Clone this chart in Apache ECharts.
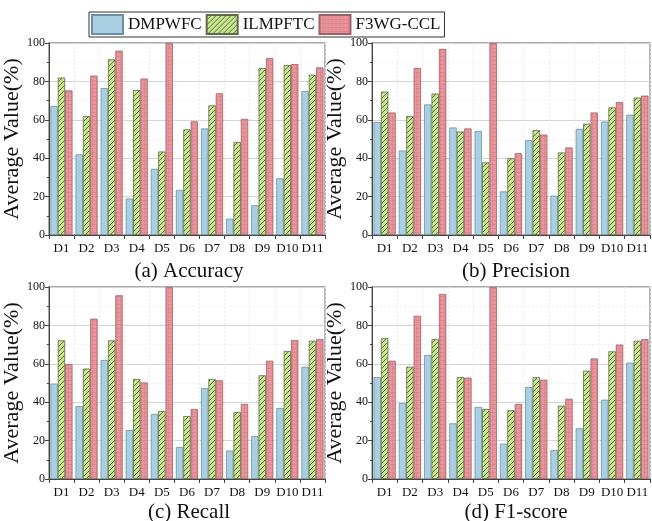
<!DOCTYPE html>
<html>
<head>
<meta charset="utf-8">
<script src="https://cdn.jsdelivr.net/npm/echarts@6/dist/echarts.min.js"></script>
<style>html,body{margin:0;padding:0;background:#fff;}#c{width:652px;height:521px;}</style>
</head>
<body>
<div id="c"></div>
<script>
const categories = ['D1','D2','D3','D4','D5','D6','D7','D8','D9','D10','D11'];
const seriesNames = ['DMPWFC','ILMPFTC','F3WG-CCL'];
const panelTitles = ['(a) Accuracy','(b) Precision','(c) Recall','(d) F1-score'];
const yTicks = [0,20,40,60,80,100];

const accDMPWFC  = [67.2, 42.0, 76.5, 19.0, 34.5, 23.5, 55.5, 8.5, 15.5, 29.5, 75.0];
const accILMPFTC = [82.0, 62.0, 91.5, 75.5, 43.5, 55.0, 67.5, 48.5, 87.0, 88.5, 83.5];
const accF3WG    = [75.3, 83.0, 96.0, 81.5, 100.0, 59.2, 73.8, 60.5, 92.2, 89.0, 87.3];

const preDMPWFC  = [58.8, 44.0, 68.0, 56.0, 54.2, 22.7, 49.4, 20.5, 55.3, 59.1, 62.7];
const preILMPFTC = [74.7, 62.0, 73.7, 53.9, 37.8, 40.0, 54.6, 43.0, 58.0, 66.5, 71.6];
const preF3WG    = [63.8, 87.0, 96.9, 55.5, 100.0, 42.6, 52.3, 45.6, 63.8, 69.2, 72.6];

const recDMPWFC  = [49.7, 38.0, 62.0, 25.5, 33.9, 16.7, 47.4, 14.8, 22.4, 37.0, 58.5];
const recILMPFTC = [72.2, 57.5, 72.2, 52.1, 35.4, 32.8, 52.1, 34.9, 54.0, 66.7, 72.0];
const recF3WG    = [59.9, 83.5, 95.7, 50.3, 100.0, 36.5, 51.4, 39.1, 61.6, 72.4, 72.9];

const f1DMPWFC   = [53.1, 39.6, 64.6, 29.0, 37.5, 18.4, 47.9, 15.1, 26.4, 41.3, 60.6];
const f1ILMPFTC  = [73.3, 58.5, 72.9, 53.1, 36.5, 35.8, 53.0, 38.2, 56.4, 66.5, 72.0];
const f1F3WG     = [61.6, 85.0, 96.4, 52.8, 100.0, 39.1, 51.7, 41.8, 62.8, 70.0, 72.9];

const panels = [
  [accDMPWFC, accILMPFTC, accF3WG],
  [preDMPWFC, preILMPFTC, preF3WG],
  [recDMPWFC, recILMPFTC, recF3WG],
  [f1DMPWFC, f1ILMPFTC, f1F3WG]
];

function hatchPattern() {
  const c = document.createElement('canvas');
  c.width = 5; c.height = 5;
  const g = c.getContext('2d');
  g.fillStyle = '#c8e68e'; g.fillRect(0,0,5,5);
  g.strokeStyle = '#3c4a2a'; g.lineWidth = 0.8;
  g.beginPath();
  g.moveTo(0,5); g.lineTo(5,0);
  g.moveTo(-1,1); g.lineTo(1,-1);
  g.moveTo(4,6); g.lineTo(6,4);
  g.stroke();
  return c;
}
function gridPattern() {
  const c = document.createElement('canvas');
  c.width = 4; c.height = 4;
  const g = c.getContext('2d');
  g.fillStyle = '#ea959b'; g.fillRect(0,0,4,4);
  g.fillStyle = '#d98088';
  g.fillRect(0,0,4,0.6);
  g.fillRect(0,0,0.6,4);
  return c;
}
const fills = [
  '#a9d0e2',
  {image: hatchPattern(), repeat: 'repeat'},
  {image: gridPattern(), repeat: 'repeat'}
];
const borders = ['#6f8f9e', '#5d6b4b', '#9a6266'];

const font = '"Liberation Serif", serif';
const gridPos = [
  {left: 43, top: 43, width: 282, height: 192},
  {left: 372, top: 43, width: 278, height: 192},
  {left: 43, top: 287, width: 282, height: 192},
  {left: 372, top: 287, width: 278, height: 192}
];
const titleTops = [256, 256, 497, 497];

const option = {
  backgroundColor: '#fff',
  animation: false,
  title: panelTitles.map((t, i) => ({
    text: t,
    left: gridPos[i].left + gridPos[i].width / 2,
    top: titleTops[i],
    textAlign: 'center',
    textStyle: {fontFamily: font, fontSize: 21, fontWeight: 'normal', color: '#111'}
  })),
  legend: {
    left: 89, top: 12,
    padding: [2, 4, 2, 2],
    borderColor: '#333', borderWidth: 1, borderRadius: 0,
    icon: 'path://M0,0L10,0L10,10L0,10Z',
    symbolKeepAspect: false,
    itemWidth: 31, itemHeight: 19, itemGap: 4,
    selectedMode: false,
    data: [
      {name: seriesNames[0], textStyle: {width: 82}},
      {name: seriesNames[1], textStyle: {width: 82}},
      {name: seriesNames[2]}
    ],
    textStyle: {fontFamily: font, fontSize: 17, color: '#111'}
  },
  grid: gridPos.map(g => Object.assign({show: true, borderColor: '#909090', borderWidth: 1.3, backgroundColor: 'transparent'}, g)),
  xAxis: gridPos.map((g, i) => ({
    type: 'category', gridIndex: i, data: categories,
    axisLine: {lineStyle: {color: '#444', width: 1}},
    axisTick: {show: true, inside: false, length: 4, lineStyle: {color: '#444'}},
    axisLabel: {fontFamily: font, fontSize: 13, color: '#111', margin: 7, interval: 0},
    splitLine: {show: true, lineStyle: {color: '#e6e6e6', type: [2, 2], width: 0.8}}
  })),
  yAxis: gridPos.map((g, i) => ({
    type: 'value', gridIndex: i, min: 0, max: 100, interval: 20,
    name: 'Average Value(%)', nameLocation: 'middle', nameGap: 20,
    nameTextStyle: {fontFamily: font, fontSize: 22, color: '#111'},
    axisLine: {show: true, lineStyle: {color: '#444', width: 1}},
    axisTick: {show: true, inside: false, length: 4, lineStyle: {color: '#444'}},
    minorTick: {show: true, splitNumber: 2, length: 2, lineStyle: {color: '#444'}},
    axisLabel: {fontFamily: font, fontSize: 12, color: '#111', margin: 4,
      formatter: v => yTicks.indexOf(v) >= 0 ? String(v) : ''},
    splitLine: {show: true, lineStyle: {color: '#d4d4d4', width: 1}},
    minorSplitLine: {show: true, lineStyle: {color: '#ececec', type: [2, 2], width: 0.8}}
  })),
  series: []
};

panels.forEach((vals, p) => {
  vals.forEach((arr, s) => {
    option.series.push({
      type: 'bar', name: seriesNames[s],
      xAxisIndex: p, yAxisIndex: p,
      data: arr,
      barGap: '0%', barCategoryGap: '12%',
      itemStyle: {color: fills[s], borderColor: borders[s], borderWidth: 0.8}
    });
  });
});

const chart = echarts.init(document.getElementById('c'), null, {renderer: 'canvas'});
chart.setOption(option);
</script>
</body>
</html>
